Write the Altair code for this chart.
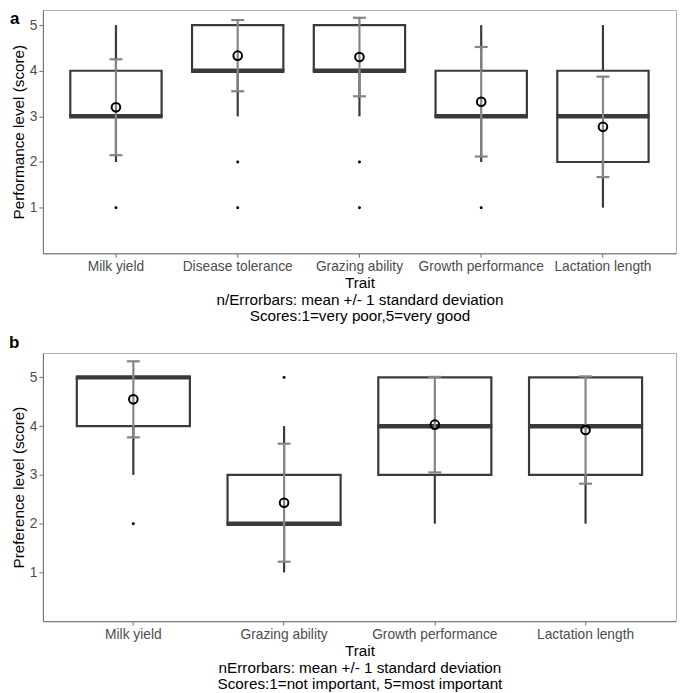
import altair as alt
import pandas as pd

# ---- Panel a data (performance) ----
a_traits = ["Milk yield", "Disease tolerance", "Grazing ability", "Growth performance", "Lactation length"]
a_q1 = [3, 4, 4, 3, 2]
a_median = [3, 4, 4, 3, 3]
a_q3 = [4, 5, 5, 4, 4]
a_whisk_lo = [2, 3, 3, 2, 1]
a_whisk_hi = [5, 5, 5, 5, 5]
a_mean = [3.2, 4.33, 4.3, 3.32, 2.77]
a_sd = [1.05, 0.78, 0.86, 1.2, 1.1]
a_out_trait = ["Milk yield", "Disease tolerance", "Disease tolerance", "Grazing ability", "Grazing ability", "Growth performance"]
a_out_value = [1, 2, 1, 2, 1, 1]
a_caption = ["Trait", "n/Errorbars: mean +/- 1 standard deviation", "Scores:1=very poor,5=very good"]

# ---- Panel b data (preference) ----
b_traits = ["Milk yield", "Grazing ability", "Growth performance", "Lactation length"]
b_q1 = [4, 2, 3, 3]
b_median = [5, 2, 4, 4]
b_q3 = [5, 3, 5, 5]
b_whisk_lo = [3, 1, 2, 2]
b_whisk_hi = [5, 4, 5, 5]
b_mean = [4.55, 2.43, 4.03, 3.92]
b_sd = [0.78, 1.21, 0.98, 1.1]
b_out_trait = ["Milk yield", "Grazing ability"]
b_out_value = [2, 5]
b_caption = ["Trait", "nErrorbars: mean +/- 1 standard deviation", "Scores:1=not important, 5=most important"]

DARK = "#3a3a3a"
GRAY = "#858585"
FONT = "Liberation Sans"


def panel(traits, q1, med, q3, wlo, whi, mean, sd, out_t, out_v,
          ymax, width, height, ytitle, xtitle, tag, tag_x, tag_y):
    df = pd.DataFrame({"trait": traits, "q1": q1, "median": med, "q3": q3,
                       "wlo": wlo, "whi": whi, "mean": mean, "sd": sd})
    df["elo"] = df["mean"] - df["sd"]
    df["ehi"] = df["mean"] + df["sd"]
    odf = pd.DataFrame({"trait": out_t, "value": out_v})
    step = width / (len(traits) + 0.2)
    boxw = 0.75 * step

    def X():
        return alt.X("trait:N", sort=traits,
                     scale=alt.Scale(type="band", paddingInner=0, paddingOuter=0.1),
                     axis=alt.Axis(title=xtitle, labelAngle=0, titleLineHeight=16.5))

    def Y(f):
        return alt.Y(f + ":Q", scale=alt.Scale(domain=[0, ymax], nice=False, zero=False),
                     axis=alt.Axis(title=ytitle, values=[1, 2, 3, 4, 5], grid=False))

    base = alt.Chart(df)
    wl = base.mark_rule(color=DARK, strokeWidth=2.2).encode(x=X(), y=Y("wlo"), y2="q1:Q")
    wh = base.mark_rule(color=DARK, strokeWidth=2.2).encode(x=X(), y=Y("q3"), y2="whi:Q")
    box = base.mark_bar(size=boxw, fill="white", stroke=DARK, strokeWidth=2.2).encode(
        x=X(), y=Y("q1"), y2="q3:Q")
    medt = base.mark_tick(size=boxw + 2, thickness=4.5, color=DARK, orient="horizontal", opacity=1).encode(
        x=X(), y=Y("median"))
    outl = alt.Chart(odf).mark_circle(color="black", size=9, opacity=1).encode(x=X(), y=Y("value"))
    err = base.mark_rule(color=GRAY, strokeWidth=2.2).encode(x=X(), y=Y("elo"), y2="ehi:Q")
    caplo = base.mark_tick(size=13, thickness=2.2, color=GRAY, orient="horizontal", opacity=1).encode(
        x=X(), y=Y("elo"))
    caphi = base.mark_tick(size=13, thickness=2.2, color=GRAY, orient="horizontal", opacity=1).encode(
        x=X(), y=Y("ehi"))
    mpt = base.mark_point(shape="circle", filled=False, color="black", size=75,
                          strokeWidth=2, opacity=1).encode(x=X(), y=Y("mean"))
    tg = alt.Chart(pd.DataFrame({"t": [tag]})).mark_text(
        align="left", baseline="alphabetic", font=FONT, fontSize=17, fontWeight="bold",
        color="black").encode(x=alt.value(tag_x), y=alt.value(tag_y), text="t:N")
    return alt.layer(wl, wh, box, medt, outl, err, caplo, caphi, mpt, tg).properties(
        width=width, height=height)


pa = panel(a_traits, a_q1, a_median, a_q3, a_whisk_lo, a_whisk_hi, a_mean, a_sd,
           a_out_trait, a_out_value, 5.33, 635, 244, "Performance level (score)",
           a_caption, "a", -33, 14)
pb = panel(b_traits, b_q1, b_median, b_q3, b_whisk_lo, b_whisk_hi, b_mean, b_sd,
           b_out_trait, b_out_value, 5.5, 635, 269, "Preference level (score)",
           b_caption, "b", -34, -5)

chart = alt.vconcat(pa, pb, spacing=8, padding=0).configure_view(
    stroke="#b0b0b0", strokeWidth=1
).configure_axis(
    domainColor="#6e6e6e", tickColor="#6e6e6e", labelColor="#4d4d4d",
    labelFont=FONT, titleFont=FONT, labelFontSize=13.8, titleFontSize=15.3,
    titleFontWeight="normal", titleColor="black", tickSize=4, labelPadding=2,
    titlePadding=3, domainWidth=1
)

chart.save("out.html", embed_options={"renderer": "svg", "actions": False})
